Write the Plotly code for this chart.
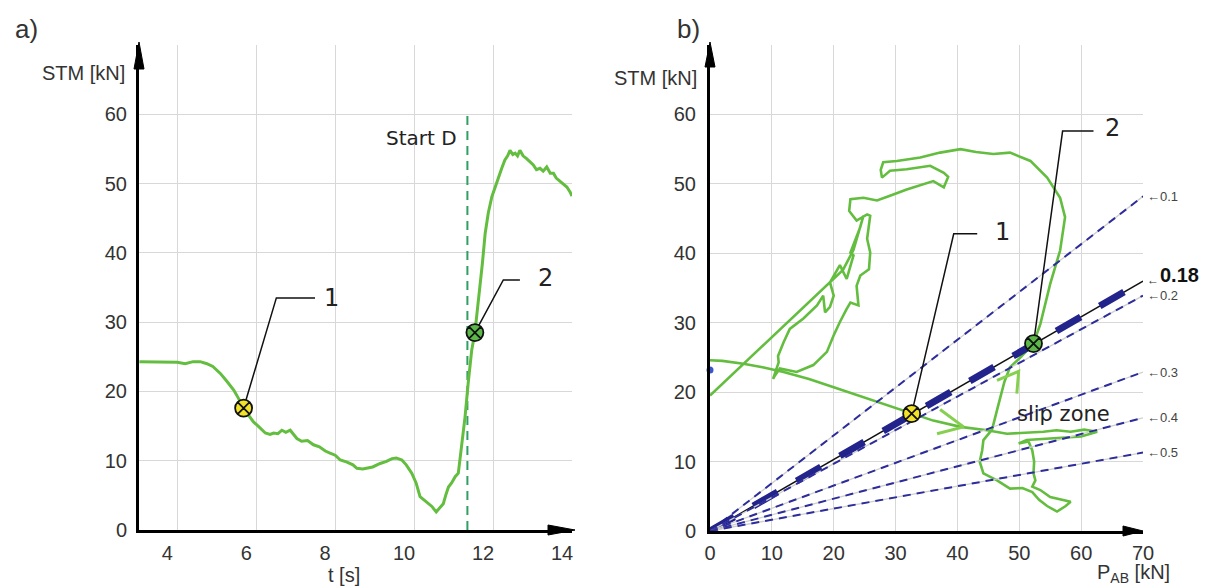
import plotly.graph_objects as go

W, H = 1211, 587          # browser window / figure size

# ---------------- panel a) : STM over time ----------------
t_s = [3.04, 3.5, 4.0, 4.2, 4.4, 4.58, 4.75, 4.9, 5.09, 5.25, 5.43, 5.55, 5.68, 5.8, 5.93,
       6.05, 6.23, 6.35, 6.44, 6.55, 6.65, 6.75, 6.86, 7.03, 7.15, 7.3, 7.45, 7.6, 7.75, 7.87,
       8.0, 8.13, 8.3, 8.45, 8.55, 8.7, 8.8, 8.95, 9.14, 9.3, 9.44, 9.55, 9.69, 9.8, 9.94,
       10.05, 10.15, 10.25, 10.36, 10.45, 10.56, 10.65, 10.74, 10.8, 10.87, 10.95, 11.04,
       11.12, 11.17, 11.21, 11.29, 11.37, 11.46, 11.54, 11.6, 11.67, 11.73, 11.8, 11.88,
       11.97, 12.05, 12.14, 12.22, 12.3, 12.37, 12.43, 12.5, 12.56, 12.62, 12.68, 12.76,
       12.85, 12.93, 13.02, 13.1, 13.19, 13.27, 13.36, 13.45, 13.53, 13.6, 13.7, 13.78,
       13.87, 13.95, 14.0]
stm_t = [24.3, 24.3, 24.2, 24.0, 24.3, 24.3, 24.0, 23.6, 22.6, 21.5, 20.2, 19.0, 17.6, 16.6, 15.6,
         15.0, 14.0, 13.8, 14.0, 13.9, 14.4, 14.1, 14.4, 13.2, 12.8, 12.9, 12.3, 12.0, 11.4, 11.1,
         10.8, 10.1, 9.8, 9.4, 8.9, 8.8, 8.9, 9.1, 9.6, 9.9, 10.3, 10.4, 10.1, 9.4, 8.2,
         6.8, 4.8, 4.3, 3.8, 3.4, 2.6, 3.2, 3.8, 5.0, 6.2, 6.8, 7.7,
         8.2, 10.5, 13.0, 16.3, 21.2, 26.0, 28.5, 31.5, 35.1, 38.5, 42.8, 45.8,
         48.1, 49.5, 51.0, 52.2, 53.4, 54.0, 54.8, 54.2, 54.4, 54.0, 54.8, 54.0,
         53.6, 53.2, 52.7, 52.0, 52.2, 51.8, 52.4, 51.5, 51.5, 50.8, 50.3, 50.0,
         49.5, 48.8, 48.2]
start_d_t = [11.35, 11.35]
start_d_stm = [0, 60]
mark_t = [5.68, 11.54]
mark_stm_t = [17.6, 28.5]
lead1_t = [5.68, 6.51, 7.49]
lead1_stm = [17.6, 33.5, 33.5]
lead2_t = [11.54, 12.26, 12.68]
lead2_stm = [28.5, 36.1, 36.1]
xticks_a = [4, 6, 8, 10, 12, 14]
yticks = [0, 10, 20, 30, 40, 50, 60]

# ---------------- panel b) : STM over P_AB ----------------
p_ab = [0, 2, 5.4, 8.5, 11.9, 16, 20.0, 24, 28.0, 32.6, 36.1, 40.5, 44.8, 48.0, 50.5, 53.9, 56,
        58.3, 60.5, 62.6, 60, 57, 54, 51.2, 49.9, 51.5, 52.1, 52.4, 52.3, 52.6, 52.1, 53.4,
        55.0, 58.3, 57.5, 56.6, 56.1, 54.5, 53.2, 52.1, 50.5, 48.5, 46.4, 45.3, 44.2, 43.6,
        44.0, 44.2, 45.6, 46.4, 47.0, 47.6, 48.5, 50.2, 52.3,
        53.4, 55.0, 56.6, 57.4, 56.6, 54.5, 51.8, 48.5, 45.8, 43.0, 40.5, 37.2, 34.0, 30.2,
        28.0, 27.6, 27.8, 29.1, 31.8, 35.6, 37.8, 38.5, 37.8, 36.1, 31.8, 29.1, 27.0, 24.8,
        22.7, 22.5, 23.7,
        25.4, 25.9, 25.4, 25.9, 25.7, 24.3, 23.7, 24.0, 22.7, 22.1, 21.0, 20.0, 18.9, 16.7,
        14.0, 11.3, 10.5, 10.2, 11.1, 11.0, 11.9, 12.9, 15.1, 17.3, 18.3, 18.6, 19.4, 20.0,
        19.4, 21.0, 22.1, 23.2, 22.7, 23.7, 24.3, 24.8, 24.3, 23.2, 21.5, 0]
stm_p = [24.6, 24.5, 24.1, 23.6, 22.9, 21.9, 20.7, 19.5, 18.3, 16.9, 15.9, 15.0, 14.5, 14.0, 14.1,
         14.3, 14.5, 14.3, 14.6, 14.3, 13.6, 13.4, 13.3, 13.1, 12.6, 12.9, 11.6, 10.0, 8.3, 7.3,
         6.4, 5.9, 4.9, 4.2, 3.6, 3.0, 2.8, 3.6, 4.5, 5.6, 6.2, 6.1, 7.3, 7.8, 8.3, 10.0,
         11.6, 13.1, 14.6, 17.4, 19.5, 21.5, 23.6, 25.0, 27.0,
         29.8, 35.6, 40.4, 45.2, 48.0, 50.9, 53.3, 54.5, 54.3, 54.6, 55.0, 54.5, 53.8, 53.3,
         53.1, 52.0, 50.9, 51.9, 52.1, 52.6, 51.6, 51.0, 49.5, 50.4, 49.2, 48.3, 47.6, 48.0,
         47.8, 46.1, 44.7,
         45.6, 45.4, 42.1, 40.1, 37.7, 36.8, 35.3, 32.5, 32.9, 32.0, 30.1, 28.2, 25.8, 23.9,
         22.9, 23.4, 22.4, 21.9, 24.3, 25.2, 27.2, 29.1, 30.6, 32.5, 33.9, 31.5, 32.3, 33.9,
         35.8, 38.3, 36.3, 39.7, 40.1, 42.5, 43.8, 45.4, 43.8, 40.5, 37.6, 19.5]
arrow1_p = [37.2, 41.0, 36.7]
arrow1_stm = [17.5, 15.0, 14.0]
arrow2_p = [46.4, 49.9, 49.6]
arrow2_stm = [21.7, 23.0, 19.8]
mark_p = [32.6, 52.3]
mark_stm_p = [16.9, 27.0]
lead1_p = [32.6, 39.4, 43.2]
lead1_stm_p = [16.9, 42.8, 42.8]
lead2_p = [52.3, 57.0, 62.0]
lead2_stm_p = [27.0, 57.6, 57.6]
ratio_labels = ["0.1", "0.18", "0.2", "0.3", "0.4", "0.5"]
ratio_end_stm = [48.2, 36.0, 33.9, 22.9, 16.3, 11.3]   # STM value of each ray at P_AB = 70
p_end = 70
start_dot_stm = [23.2]
xticks_b = [0, 10, 20, 30, 40, 50, 60, 70]

GREEN = "#63bd3f"
NAVY = "#2c2c9c"
TICKFONT = dict(family="Liberation Sans, Arial", size=20, color="#333333")
TXT = "DejaVu Sans, Verdana"

# plot-area boxes in window pixels (left, right, top, bottom)
A_BOX = (139, 572, 45, 530)
B_BOX = (710, 1143, 45, 531)


def pxx(x):
    return x / W


def pyy(y):
    return 1 - y / H


fig = go.Figure()

# ---- panel a traces ----
fig.add_trace(go.Scatter(x=start_d_t, y=start_d_stm, mode="lines",
                         line=dict(color="#2f9f63", width=2, dash="9px,6px"),
                         xaxis="x", yaxis="y"))
fig.add_trace(go.Scatter(x=t_s, y=stm_t, mode="lines",
                         line=dict(color=GREEN, width=3), xaxis="x", yaxis="y"))
for lx, ly in ((lead1_t, lead1_stm), (lead2_t, lead2_stm)):
    fig.add_trace(go.Scatter(x=lx, y=ly, mode="lines", line=dict(color="#111111", width=1.5),
                             xaxis="x", yaxis="y"))
fig.add_trace(go.Scatter(x=mark_t, y=mark_stm_t, mode="markers",
                         marker=dict(symbol="circle-x", size=17,
                                     color=["#f3e326", "#5cb848"],
                                     line=dict(color="#111111", width=1.8)),
                         xaxis="x", yaxis="y", cliponaxis=False))

# ---- panel b traces ----
fig.add_trace(go.Scatter(x=p_ab, y=stm_p, mode="lines",
                         line=dict(color=GREEN, width=2.6), xaxis="x2", yaxis="y2"))
for ax_, ay_ in ((arrow1_p, arrow1_stm), (arrow2_p, arrow2_stm)):
    fig.add_trace(go.Scatter(x=ax_, y=ay_, mode="lines", line=dict(color="#86d04f", width=3),
                             xaxis="x2", yaxis="y2"))
for lab, ye in zip(ratio_labels, ratio_end_stm):
    if lab == "0.18":
        fig.add_trace(go.Scatter(x=[0, p_end], y=[0, ye], mode="lines",
                                 line=dict(color="#111111", width=1.5), xaxis="x2", yaxis="y2"))
        fig.add_trace(go.Scatter(x=[0, p_end], y=[0, ye], mode="lines",
                                 line=dict(color="#23238c", width=7, dash="28px,22px"),
                                 xaxis="x2", yaxis="y2"))
    else:
        fig.add_trace(go.Scatter(x=[0, p_end], y=[0, ye], mode="lines",
                                 line=dict(color="#cfcfcf", width=1.3), xaxis="x2", yaxis="y2"))
        fig.add_trace(go.Scatter(x=[0, p_end], y=[0, ye], mode="lines",
                                 line=dict(color=NAVY, width=2, dash="8px,6px"),
                                 xaxis="x2", yaxis="y2"))
for lx, ly in ((lead1_p, lead1_stm_p), (lead2_p, lead2_stm_p)):
    fig.add_trace(go.Scatter(x=lx, y=ly, mode="lines", line=dict(color="#111111", width=1.5),
                             xaxis="x2", yaxis="y2"))
fig.add_trace(go.Scatter(x=mark_p, y=mark_stm_p, mode="markers",
                         marker=dict(symbol="circle-x", size=17,
                                     color=["#f3e326", "#5cb848"],
                                     line=dict(color="#111111", width=1.8)),
                         xaxis="x2", yaxis="y2", cliponaxis=False))
fig.add_trace(go.Scatter(x=[0], y=start_dot_stm, mode="markers",
                         marker=dict(size=7, color="#3a56c8"), xaxis="x2", yaxis="y2",
                         cliponaxis=False))

axis_common = dict(showline=True, linecolor="black", linewidth=3, showgrid=True,
                   gridcolor="#d8d8d8", gridwidth=1, zeroline=False, ticks="",
                   tickfont=TICKFONT, fixedrange=True, automargin=False)

fig.update_layout(
    template="none",
    width=W, height=H, margin=dict(l=0, r=0, t=0, b=0, pad=0),
    paper_bgcolor="white", plot_bgcolor="white", showlegend=False,
    xaxis=dict(domain=[pxx(A_BOX[0]), pxx(A_BOX[1])], range=[3.03, 14.0], tickvals=xticks_a,
               anchor="y", ticklabelshift=-10, ticklabelstandoff=3, **axis_common),
    yaxis=dict(domain=[pyy(A_BOX[3]), pyy(A_BOX[2])], range=[0, 70], tickvals=yticks,
               anchor="x", ticklabelstandoff=5, **axis_common),
    xaxis2=dict(domain=[pxx(B_BOX[0]), pxx(B_BOX[1])], range=[0, 70], tickvals=xticks_b,
                anchor="y2", ticklabelstandoff=2, **axis_common),
    yaxis2=dict(domain=[pyy(B_BOX[3]), pyy(B_BOX[2])], range=[0, 70], tickvals=yticks,
                anchor="x2", ticklabelstandoff=7, **axis_common),
)

# axis arrow heads (paper referenced, pixel sized)
shapes = []
for xa, ya, path in (
        (A_BOX[1], A_BOX[3], "M 3,0 L -24,5 L -24,-5 Z"),
        (A_BOX[0], A_BOX[2], "M 0,3 L -5,-24 L 5,-24 Z"),
        (B_BOX[1], B_BOX[3], "M 0,0 L -20,5 L -20,-5 Z"),
        (B_BOX[0], B_BOX[2], "M 0,3 L -5,-22 L 5,-22 Z")):
    shapes.append(dict(type="path", xref="paper", yref="paper", xsizemode="pixel",
                       ysizemode="pixel", xanchor=pxx(xa), yanchor=pyy(ya), path=path,
                       fillcolor="black", line=dict(color="black", width=1)))
fig.update_layout(shapes=shapes)

ann = []


def txt(text, x, y, size, family=TXT, color="#222222", xanchor="center", **kw):
    ann.append(dict(text=text, x=pxx(x), y=pyy(y), xref="paper", yref="paper",
                    showarrow=False, xanchor=xanchor, yanchor="middle",
                    font=dict(family=family, size=size, color=color), **kw))


txt("a)", 26, 29, 26, family="Liberation Sans, Arial", color="#333333")
txt("b)", 688, 29, 26, family="Liberation Sans, Arial", color="#333333")
txt("STM [kN]", 84, 73, 20, family="Liberation Sans, Arial", color="#333333")
txt("STM [kN]", 655, 78, 20, family="Liberation Sans, Arial", color="#333333")
txt("t [s]", 344, 575, 20, family="Liberation Sans, Arial", color="#333333")
txt("P<sub>AB</sub> [kN]", 1172, 573, 20, family="Liberation Sans, Arial", color="#333333",
    xanchor="right")
txt("Start D", 421, 138, 20)
txt("1", 331, 298, 24)
txt("2", 545, 278, 24)
txt("1", 1002, 232, 24)
txt("2", 1112, 128, 24)
txt("slip zone", 1063, 414, 21)

for lab, ye in zip(ratio_labels, ratio_end_stm):
    if lab == "0.18":
        ann.append(dict(text="←", x=p_end, y=ye, xref="x2", yref="y2", showarrow=False,
                        xanchor="left", xshift=2, yshift=1,
                        font=dict(family="Liberation Sans, Arial", size=12, color="#333333")))
        ann.append(dict(text="<b>0.18</b>", x=p_end, y=ye, xref="x2", yref="y2",
                        showarrow=False, xanchor="left", xshift=15, yshift=6,
                        font=dict(family="Liberation Sans, Arial", size=20, color="#111111")))
    else:
        ann.append(dict(text="←" + lab, x=p_end, y=ye, xref="x2", yref="y2", showarrow=False,
                        xanchor="left", xshift=2,
                        font=dict(family="Liberation Sans, Arial", size=13, color="#444444")))
fig.update_layout(annotations=ann)

# remove the default page margin so the figure fills the window exactly
fig.write_html("out.html", config={"displayModeBar": False},
               post_script="document.body.style.margin='0';"
                           "document.body.style.overflow='hidden';")
